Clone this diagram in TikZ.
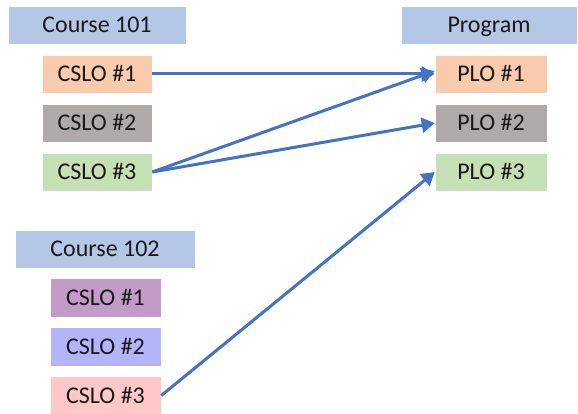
\documentclass[tikz,border=0pt]{standalone}
\usepackage{fontspec}
\setmainfont{Carlito}
\usetikzlibrary{arrows.meta}
\definecolor{hdr}{HTML}{B4C7E7}
\definecolor{corange}{HTML}{F8CBAD}
\definecolor{cgray}{HTML}{AEAAAA}
\definecolor{cgreen}{HTML}{C5E0B4}
\definecolor{cpurple}{HTML}{C39BC8}
\definecolor{clav}{HTML}{B4B4FA}
\definecolor{cpink}{HTML}{FFC8C8}
\definecolor{arr}{HTML}{4472C4}
\begin{document}
\begin{tikzpicture}[x=1pt,y=-1pt,
  box/.style={draw=white, line width=0.6pt, inner sep=0pt, font=\fontsize{24}{28}\selectfont, text=black!90, text height=15.5pt, text depth=0pt},
  link/.style={draw=arr, line width=3pt, -{Triangle[length=13pt,width=15pt]}, shorten >=0pt}]
\useasboundingbox (0,0) rectangle (578,414);
% Course 101
\node[box, fill=hdr, minimum width=178pt, minimum height=38pt] (c1) at (97,25) {Course 101};
\node[box, fill=corange, minimum width=110pt, minimum height=38pt] (a1) at (97,74) {CSLO \#1};
\node[box, fill=cgray, minimum width=110pt, minimum height=38pt] (a2) at (97,123) {CSLO \#2};
\node[box, fill=cgreen, minimum width=110pt, minimum height=38pt] (a3) at (97,172) {CSLO \#3};
% Program
\node[box, fill=hdr, minimum width=176pt, minimum height=38pt] (p) at (489,25) {Program};
\node[box, fill=corange, minimum width=112pt, minimum height=38pt] (p1) at (491,74) {PLO \#1};
\node[box, fill=cgray, minimum width=112pt, minimum height=38pt] (p2) at (491,123) {PLO \#2};
\node[box, fill=cgreen, minimum width=112pt, minimum height=38pt] (p3) at (491,172) {PLO \#3};
% Course 102
\node[box, fill=hdr, minimum width=180pt, minimum height=38pt] (c2) at (105,249) {Course 102};
\node[box, fill=cpurple, minimum width=111pt, minimum height=39pt] (b1) at (105.5,297.5) {CSLO \#1};
\node[box, fill=clav, minimum width=111pt, minimum height=39pt] (b2) at (105.5,346.5) {CSLO \#2};
\node[box, fill=cpink, minimum width=111pt, minimum height=39pt] (b3) at (105.5,395.5) {CSLO \#3};
% links
\draw[link] (a1.east) -- (p1.west);
\draw[link] (a3.east) -- ([yshift=3pt]p1.west);
\draw[link] (a3.east) -- (p2.west);
\draw[link] (b3.east) -- (p3.west);
\end{tikzpicture}
\end{document}
